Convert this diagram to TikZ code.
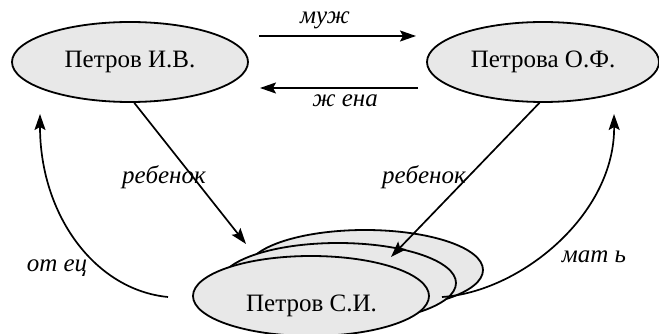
\documentclass[tikz,border=0pt]{standalone}
\usepackage{fontspec}
\setmainfont{Liberation Serif}
\usetikzlibrary{shapes.geometric,arrows.meta}
\begin{document}
\begin{tikzpicture}[x=1pt,y=-1pt,
  person/.style={ellipse,draw=black,line width=1.8pt,fill=black!9,
    minimum width=236pt,minimum height=80pt,inner sep=0pt,
    font=\fontsize{25}{28}\selectfont},
  rel/.style={line width=1.7pt,-{Stealth[length=16pt,width=11pt,inset=3pt]}},
  rellabel/.style={font=\fontsize{25}{28}\selectfont\itshape,inner sep=0pt}]
\useasboundingbox (0,0) rectangle (659,334);

% parents
\node[person] (father) at (130,62) {Петров И.В.};
\node[person,minimum width=232pt] (mother) at (543,62) {Петрова О.Ф.};

% stacked children
\node[person] (child3) at (365,270) {};
\node[person] (child2) at (338,283) {};
\node[person] (child1) at (311,296) {};
\node[font=\fontsize{25}{28}\selectfont] (childname) at (311.5,306) {Петров С.И.};

% husband / wife
\coordinate (m1) at (259,36);
\coordinate (m2) at (416,36);
\coordinate (w1) at (418,88);
\coordinate (w2) at (260,88);
\draw[rel] (m1) -- (m2);
\draw[rel] (w1) -- (w2);
\node[rellabel] (lmuzh) at (325,20) {муж};
\node[rellabel] (lzhena) at (345,101) {ж ена};

% children
\coordinate (c1) at (246,244);
\coordinate (c2) at (391,257);
\draw[rel] (father.-84) -- (c1);
\draw[rel] (mother.-95) -- (c2);
\node[rellabel] (lreb1) at (164,177) {ребенок};
\node[rellabel] (lreb2) at (424,177) {ребенок};

% father / mother links
\coordinate (f0) at (168,297);
\coordinate (f1) at (40,114);
\coordinate (g0) at (442,297);
\coordinate (g1) at (614,114);
\draw[rel] (f0) .. controls (95,290) and (40,215) .. (f1);
\draw[rel] (g0) .. controls (520,292) and (615,215) .. (g1);
\node[rellabel] (lotec) at (57,268) {от ец};
\node[rellabel] (lmat) at (594,257) {мат ь};
\end{tikzpicture}
\end{document}
